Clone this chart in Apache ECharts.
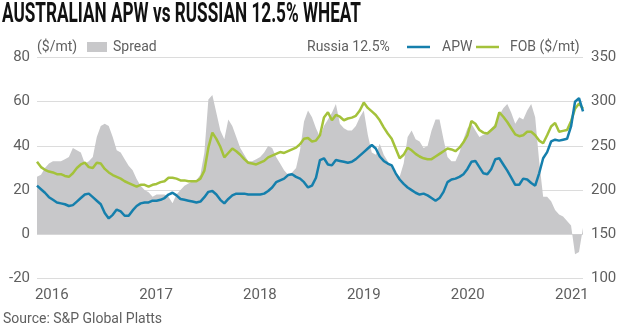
<!DOCTYPE html>
<html>
<head>
<meta charset="utf-8">
<script src="https://cdn.jsdelivr.net/npm/echarts@6/dist/echarts.min.js"></script>
<style>
  html, body { margin: 0; padding: 0; background: #fff; }
  #chart { width: 625px; height: 328px; }
</style>
</head>
<body>
<div id="chart"></div>
<script>
// Fortnightly observations starting 10 Nov 2015
const startDate = Date.UTC(2015, 10, 10);
const stepDays = 14;

// Spread, $/mt (left axis)
const spread = [
  26, 27, 30, 32, 33, 33, 33, 34, 35, 39,
  38, 37, 32, 33, 35, 44, 49, 50, 49, 44,
  38, 37, 34, 31, 29, 25, 22, 20, 19, 17,
  18, 18, 18, 17, 14, 18, 20, 22, 23, 24,
  24.5, 27, 37, 61, 63, 55, 47, 43, 52, 49,
  44, 39, 36, 33, 33, 34, 35, 37, 40, 39,
  35, 32, 29, 27, 28, 30, 38, 51, 56, 53,
  48, 44, 49, 52, 55, 59, 50, 48, 47, 47,
  49, 53, 56, 45, 37, 36, 41, 36, 33, 30,
  28, 26, 32, 44, 47, 43, 42, 39, 40, 47,
  52, 52, 43, 35, 33, 33, 37, 43, 48, 50,
  47, 44, 45, 46, 48, 50, 54, 57, 59, 55,
  50, 53, 52, 56, 59, 53, 33, 17, 17, 15,
  11, 9, 8, 6, 4, -9, -8, 3
];

// Russia 12.5% FOB, $/mt (right axis)
const russia = [
  205, 201, 197, 192, 189, 186, 185, 184, 182, 183,
  187, 191, 195, 196, 192, 188, 184, 174, 168, 172,
  178, 176, 171, 171, 177, 182, 185, 186, 186, 188,
  188, 189, 191, 195, 197, 194, 190, 189, 188, 187,
  186, 187, 192, 198, 199, 195, 189, 185, 190, 194,
  196, 196, 196, 195, 195, 195, 195, 196, 199, 203,
  209, 211, 213, 217, 218, 215, 213, 209, 203, 205,
  214, 234, 236, 229, 228, 234, 233, 232, 231, 232,
  235, 239, 243, 247, 251, 247, 238, 233, 230, 228,
  219, 212, 207, 203, 200, 197, 195, 196, 194, 191,
  188, 191, 198, 209, 212, 213, 215, 218, 224, 232,
  233, 226, 219, 218, 224, 235, 236, 229, 222, 214,
  206, 206, 213, 212, 208, 205, 219, 236, 243, 255,
  257, 256, 257, 258, 272, 300, 304, 289
];

// APW FOB, $/mt (right axis)
const apw = [
  232, 226, 223, 221, 220, 218, 218, 216, 215, 219,
  225, 229, 231, 226, 225, 231, 230, 224, 220, 217,
  215, 213, 210, 208, 206, 204, 206, 206, 204, 206,
  207, 209, 210, 214, 214, 213, 211, 211, 210, 210,
  210, 213, 222, 248, 265, 258, 249, 237, 242, 247,
  244, 240, 235, 231, 230, 229, 231, 233, 237, 239,
  241, 243, 242, 244, 246, 248, 252, 258, 259, 255,
  256, 262, 282, 288, 279, 285, 283, 279, 281, 282,
  284, 290, 299, 293, 289, 285, 279, 271, 264, 258,
  247, 236, 240, 248, 245, 241, 238, 236, 235, 235,
  238, 241, 244, 247, 246, 244, 248, 254, 262, 278,
  275, 268, 265, 264, 268, 272, 288, 283, 277, 270,
  263, 261, 262, 266, 266, 262, 256, 253, 262, 272,
  276, 266, 267, 268, 278, 292, 298, 292
];

const leftTicks = { min: -20, max: 80, interval: 20 };
const rightTicks = { min: 100, max: 350, interval: 50 };

const DAY = 86400000;
const dates = spread.map((_, i) => startDate + i * stepDays * DAY);
const pairs = arr => arr.map((v, i) => [dates[i], v]);

const textColor = '#5f5f5f';
const baseFont = 'Roboto, "Noto Sans", sans-serif';
const blue = '#157fac';
const green = '#a4c23b';
const spreadGrey = '#c8c8ca';

// Title drawn condensed: measure natural width and squeeze to the target width
const titleText = 'AUSTRALIAN APW vs RUSSIAN 12.5% WHEAT';
const titleSize = 27;
const titleFont = 'bold ' + titleSize + 'px Roboto';
const ctx = document.createElement('canvas').getContext('2d');
ctx.font = titleFont;
const titleScale = 359 / ctx.measureText(titleText).width;

const chart = echarts.init(document.getElementById('chart'), null, { renderer: 'canvas' });

chart.setOption({
  animation: false,
  backgroundColor: '#ffffff',
  grid: { left: 37, right: 42, top: 57.5, bottom: 49.5, containLabel: false },
  xAxis: {
    type: 'time',
    min: dates[0],
    max: dates[dates.length - 1],
    minInterval: 360 * DAY,
    splitNumber: 5,
    axisLine: { show: false },
    axisTick: { show: false },
    splitLine: { show: false },
    axisLabel: {
      formatter: '{yyyy}',
      color: textColor,
      fontSize: 15,
      fontFamily: baseFont,
      margin: 9,
      showMinLabel: false,
      showMaxLabel: false
    }
  },
  yAxis: [
    {
      type: 'value',
      min: leftTicks.min, max: leftTicks.max, interval: leftTicks.interval,
      axisLine: { show: false },
      axisTick: { show: false },
      splitLine: { lineStyle: { color: '#dcdcdc', width: 1 } },
      axisLabel: { color: textColor, fontSize: 15, fontFamily: baseFont, margin: 7 }
    },
    {
      type: 'value',
      position: 'right',
      min: rightTicks.min, max: rightTicks.max, interval: rightTicks.interval,
      axisLine: { show: false },
      axisTick: { show: false },
      splitLine: { show: false },
      axisLabel: { color: textColor, fontSize: 15, fontFamily: baseFont, margin: 8 }
    }
  ],
  series: [
    {
      name: 'Spread',
      type: 'line',
      yAxisIndex: 0,
      data: pairs(spread),
      showSymbol: false,
      lineStyle: { width: 0 },
      areaStyle: { color: spreadGrey, opacity: 1 },
      itemStyle: { color: spreadGrey },
      z: 1
    },
    {
      name: 'APW',
      type: 'line',
      yAxisIndex: 1,
      data: pairs(apw),
      showSymbol: false,
      lineStyle: { width: 2.5, color: green },
      itemStyle: { color: green },
      z: 3
    },
    {
      name: 'Russia 12.5%',
      type: 'line',
      yAxisIndex: 1,
      data: pairs(russia),
      showSymbol: false,
      lineStyle: { width: 2.5, color: blue },
      itemStyle: { color: blue },
      z: 4
    }
  ],
  graphic: [
    {
      type: 'text', x: 2, y: 15, scaleX: titleScale, originX: 0,
      style: { text: titleText, font: titleFont, fill: '#111', verticalAlign: 'middle' }
    },
    { type: 'text', x: 37, y: 47, style: { text: '($/mt)', fontSize: 14, fontFamily: baseFont, fill: textColor, verticalAlign: 'middle' } },
    { type: 'rect', shape: { x: 87, y: 42, width: 20, height: 10 }, style: { fill: spreadGrey } },
    { type: 'text', x: 113, y: 47, style: { text: 'Spread', fontSize: 14, fontFamily: baseFont, fill: textColor, verticalAlign: 'middle' } },
    { type: 'text', x: 307, y: 47, style: { text: 'Russia 12.5%', fontSize: 14, fontFamily: baseFont, fill: textColor, verticalAlign: 'middle' } },
    { type: 'line', shape: { x1: 407, y1: 47, x2: 430, y2: 47 }, style: { stroke: blue, lineWidth: 2.5 } },
    { type: 'text', x: 442, y: 47, style: { text: 'APW', fontSize: 14, fontFamily: baseFont, fill: textColor, verticalAlign: 'middle' } },
    { type: 'line', shape: { x1: 476, y1: 47, x2: 499, y2: 47 }, style: { stroke: green, lineWidth: 2.5 } },
    { type: 'text', x: 510, y: 47, style: { text: 'FOB ($/mt)', fontSize: 14, fontFamily: baseFont, fill: textColor, verticalAlign: 'middle' } },
    { type: 'text', x: 3, y: 319, style: { text: 'Source: S&P Global Platts', fontSize: 14, fontFamily: baseFont, fill: textColor, verticalAlign: 'middle' } }
  ]
});
</script>
</body>
</html>
